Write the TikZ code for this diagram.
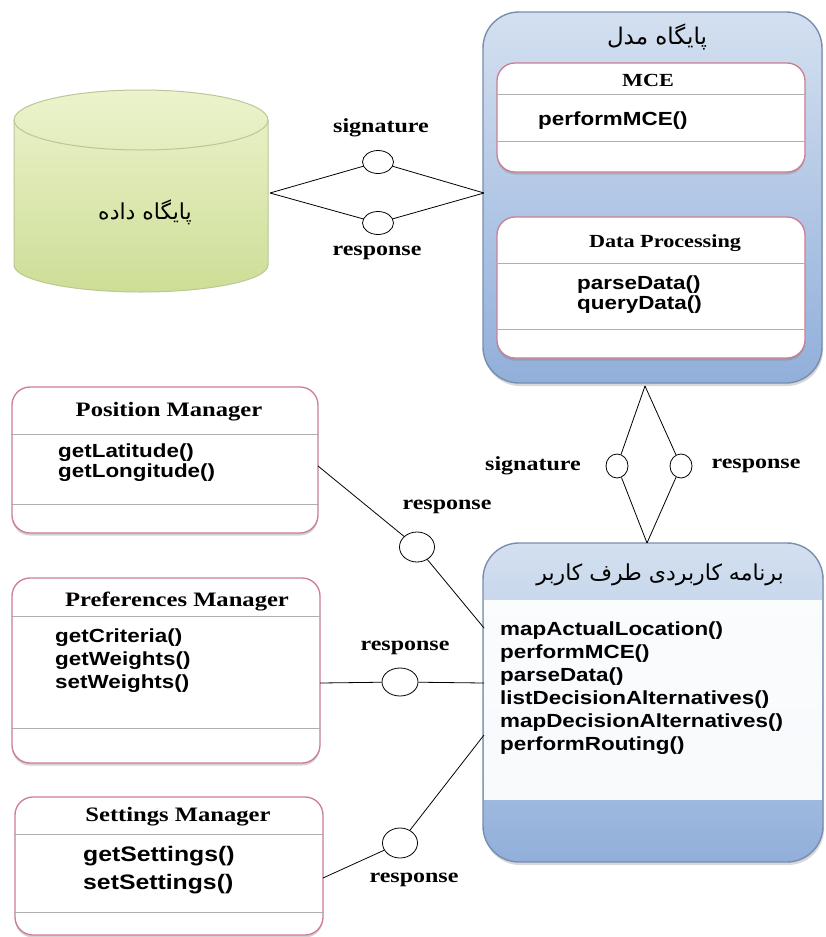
\documentclass[tikz,border=0pt]{standalone}
\usepackage{fontspec}
\usetikzlibrary{shapes.geometric,shadows,calc}
\setmainfont{Liberation Serif}
\newfontfamily\serifb[FakeStretch=1.2]{Liberation Serif}
\newfontfamily\sansb[FakeStretch=1.18]{Liberation Sans}
\newfontfamily\persian[Script=Arabic]{DejaVu Sans}
\TeXXeTstate=1
\definecolor{umlred}{RGB}{205,125,145}
\definecolor{sepgray}{RGB}{175,175,175}
\definecolor{blueedge}{RGB}{120,142,175}
\definecolor{bluetop}{RGB}{212,224,240}
\definecolor{bluebot}{RGB}{145,175,218}
\definecolor{greentop}{RGB}{236,243,205}
\definecolor{greenbot}{RGB}{205,222,150}
\definecolor{greenedge}{RGB}{185,200,150}
\begin{document}
\begin{tikzpicture}[x=1pt,y=-1pt,
  umlbox/.style={draw=umlred, line width=1.3pt, fill=white, rounded corners=18pt, inner sep=0pt,
    drop shadow={opacity=0.35, shadow xshift=0pt, shadow yshift=-2.5pt, fill=gray}},
  bluebox/.style={draw=blueedge, line width=1.4pt, rounded corners=36pt, inner sep=0pt,
    top color=bluetop, bottom color=bluebot,
    drop shadow={opacity=0.3, shadow xshift=1pt, shadow yshift=-3pt, fill=gray}},
  sepline/.style={draw=sepgray, line width=0.8pt},
  port/.style={ellipse, draw=black, fill=white, line width=0.8pt, inner sep=0pt},
  wire/.style={draw=black, line width=0.8pt},
  lbl/.style={font=\serifb\bfseries\fontsize{20}{22}\selectfont, inner sep=0pt},
  ctitle/.style={font=\serifb\bfseries\fontsize{20.5}{22}\selectfont, inner sep=0pt},
  meth/.style={font=\sansb\bfseries\fontsize{19}{20}\selectfont, align=left, anchor=north west, inner sep=0pt},
  fa/.style={font=\persian\fontsize{22}{24}\selectfont, inner sep=0pt}]

\useasboundingbox (0,0) rectangle (825,937);
\fill[white] (0,0) rectangle (825,937);

% ---------- database cylinder ----------
\shade[top color=greentop, bottom color=greenbot, draw=greenedge, line width=1pt]
  (14,120) -- (14,265) arc[start angle=180, end angle=0, x radius=127, y radius=27]
  -- (268,120) arc[start angle=0, end angle=-180, x radius=127, y radius=30] -- cycle;
\draw[greenedge, line width=1pt] (14,120) arc[start angle=180, end angle=0, x radius=127, y radius=30];
\node[fa] (db) at (145,212) {\beginR پایگاه داده\endR};
\coordinate (dbR) at (270,193);

% ---------- model box ----------
\node[bluebox, minimum width=339pt, minimum height=371pt] (model) at (652.5,197.5) {};
\node[fa, font=\persian\fontsize{23}{24}\selectfont] (modelT) at (657,37) {\beginR پایگاه مدل\endR};
\node[umlbox, minimum width=308pt, minimum height=109pt] (mce) at (651,117.5) {};
\draw[sepline] ($(mce.north west)+(0,32)$) -- ($(mce.north east)+(0,32)$);
\draw[sepline] ($(mce.north west)+(0,79)$) -- ($(mce.north east)+(0,79)$);
\node[ctitle, font=\serifb\bfseries\fontsize{18.5}{20}\selectfont] (mceT) at (648,80) {MCE};
\node[meth] (mceM) at (538,112) {performMCE()};

\node[umlbox, minimum width=308pt, minimum height=141pt] (dp) at (651,287.5) {};
\draw[sepline] ($(dp.north west)+(0,47)$) -- ($(dp.north east)+(0,47)$);
\draw[sepline] ($(dp.north west)+(0,113)$) -- ($(dp.north east)+(0,113)$);
\node[ctitle, font=\serifb\bfseries\fontsize{18.5}{20}\selectfont] (dpT) at (665,243) {Data Processing};
\node[meth] (dpM) at (577,276) {parseData()\\queryData()};
\coordinate (mL) at (484,193);
\coordinate (mB) at (645,386);

% ---------- app box ----------
\node[bluebox, minimum width=340pt, minimum height=319pt] (app) at (653,702.5) {};
\fill[white, opacity=0.93] (484,600) rectangle (822,800);
\node[fa] (appT) at (660,575) {\beginR برنامه کاربردی طرف کاربر\endR};
\node[meth, font=\sansb\bfseries\fontsize{19}{23}\selectfont] (appM) at (500,622)
  {mapActualLocation()\\performMCE()\\parseData()\\listDecisionAlternatives()\\mapDecisionAlternatives()\\performRouting()};
\coordinate (aT) at (647,543);
\coordinate (aW1) at (484,628);
\coordinate (aW2) at (484,683);
\coordinate (aW3) at (484,735);

% ---------- manager boxes ----------
\node[umlbox, minimum width=306pt, minimum height=146pt] (pos) at (165,460) {};
\draw[sepline] ($(pos.north west)+(0,48)$) -- ($(pos.north east)+(0,48)$);
\draw[sepline] ($(pos.north west)+(0,118)$) -- ($(pos.north east)+(0,118)$);
\node[ctitle] (posT) at (169,412) {Position Manager};
\node[meth] (posM) at (58,444) {getLatitude()\\getLongitude()};

\node[umlbox, minimum width=308pt, minimum height=185pt] (pref) at (166,670.5) {};
\draw[sepline] ($(pref.north west)+(0,39)$) -- ($(pref.north east)+(0,39)$);
\draw[sepline] ($(pref.north west)+(0,151)$) -- ($(pref.north east)+(0,151)$);
\node[ctitle] (prefT) at (177,602) {Preferences Manager};
\node[meth, font=\sansb\bfseries\fontsize{19}{23}\selectfont] (prefM) at (55,629) {getCriteria()\\getWeights()\\setWeights()};

\node[umlbox, minimum width=308pt, minimum height=138pt] (sett) at (169,866) {};
\draw[sepline] ($(sett.north west)+(0,38)$) -- ($(sett.north east)+(0,38)$);
\draw[sepline] ($(sett.north west)+(0,116)$) -- ($(sett.north east)+(0,116)$);
\node[ctitle] (settT) at (178,817) {Settings Manager};
\node[meth, font=\sansb\bfseries\fontsize{21}{28}\selectfont] (settM) at (83,846) {getSettings()\\setSettings()};

\coordinate (posE) at (318,466);
\coordinate (prefE) at (320,683);
\coordinate (settE) at (323,878);

% ---------- ports ----------
\node[port, minimum width=31pt, minimum height=23pt] (s1) at (378,162) {};
\node[port, minimum width=31pt, minimum height=23pt] (r1) at (378,223) {};
\node[port, minimum width=22pt, minimum height=24pt] (s2) at (617,466) {};
\node[port, minimum width=22pt, minimum height=24pt] (r2) at (681,466) {};
\node[port, minimum width=35pt, minimum height=30pt] (c1) at (417,547) {};
\node[port, minimum width=36pt, minimum height=28pt] (c2) at (400,682) {};
\node[port, minimum width=35pt, minimum height=30pt] (c3) at (400,843) {};

% ---------- wires ----------
\draw[wire] (dbR) -- (s1) -- (mL);
\draw[wire] (dbR) -- (r1) -- (mL);
\draw[wire] (mB) -- (s2) -- (aT);
\draw[wire] (mB) -- (r2) -- (aT);
\draw[wire] (posE) -- (c1) -- (aW1);
\draw[wire] (prefE) -- (c2) -- (aW2);
\draw[wire] (settE) -- (c3) -- (aW3);

% ---------- labels ----------
\node[lbl] (ls1) at (381,128) {signature};
\node[lbl] (lr1) at (377,253) {response};
\node[lbl] (ls2) at (533,466) {signature};
\node[lbl] (lr2) at (756,466) {response};
\node[lbl] (lc1) at (447,507) {response};
\node[lbl] (lc2) at (405,648) {response};
\node[lbl] (lc3) at (414,880) {response};
\end{tikzpicture}
\end{document}
